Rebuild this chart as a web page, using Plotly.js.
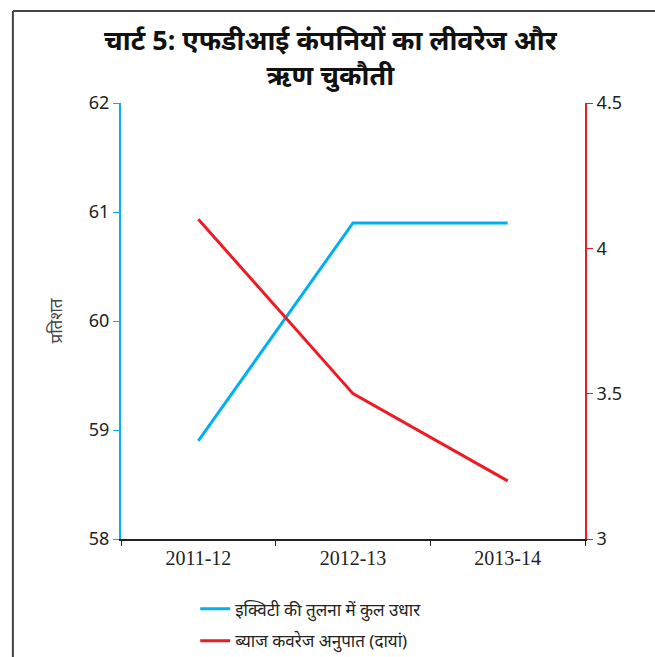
<!DOCTYPE html>
<html>
<head>
<meta charset="utf-8">
<script src="https://cdn.plot.ly/plotly-3.0.1.min.js"></script>
<style>
html,body{margin:0;padding:0;background:#fff;}
#chart{width:655px;height:657px;}
</style>
</head>
<body>
<div id="chart"></div>
<script>
const categories = ['2011-12', '2012-13', '2013-14'];
const debtEquity = [58.9, 60.9, 60.9];
const interestCoverage = [4.1, 3.5, 3.2];
const seriesNames = ['इक्विटी की तुलना में कुल उधार', 'ब्याज कवरेज अनुपात (दायां)'];
const leftTicks = [58, 59, 60, 61, 62];
const rightTicks = [3, 3.5, 4, 4.5];
const chartTitle = '<b>चार्ट 5: एफडीआई कंपनियों का लीवरेज और<br>ऋण चुकौती</b>';
const yTitle = 'प्रतिशत';

const blue = '#00B0F0';
const red = '#ED1C24';

const traces = [
  {x: categories, y: debtEquity, type: 'scatter', mode: 'lines', name: seriesNames[0],
   line: {color: blue, width: 3}, yaxis: 'y', legend: 'legend'},
  {x: categories, y: interestCoverage, type: 'scatter', mode: 'lines', name: seriesNames[1],
   line: {color: red, width: 3}, yaxis: 'y2', legend: 'legend2'}
];

const layout = {
  width: 655, height: 657,
  margin: {l: 121, r: 70, t: 103, b: 118, autoexpand: false},
  paper_bgcolor: '#fff', plot_bgcolor: '#fff',
  font: {family: 'Noto Sans, sans-serif', color: '#222'},
  xaxis: {
    type: 'category', tickson: 'boundaries', ticks: 'outside', ticklen: 5, tickcolor: '#222',
    showline: true, linecolor: '#222', linewidth: 2, showgrid: false, zeroline: false,
    tickfont: {family: 'Liberation Serif, serif', size: 20, color: '#222'},
    range: [-0.5, 2.5]
  },
  yaxis: {
    range: [58, 62], tickvals: leftTicks, ticks: 'outside', ticklen: 6, tickcolor: blue,
    showline: true, linecolor: blue, linewidth: 2, showgrid: false, zeroline: false,
    tickfont: {size: 18, color: '#222'},
    title: {text: yTitle, font: {size: 17, color: '#444'}, standoff: 22}
  },
  yaxis2: {
    range: [3, 4.5], tickvals: rightTicks, overlaying: 'y', side: 'right',
    ticks: 'outside', ticklen: 6, tickcolor: red,
    showline: true, linecolor: red, linewidth: 2, showgrid: false, zeroline: false,
    tickfont: {size: 18, color: '#222'}
  },
  legend: {x: 0.16, xanchor: 'left', y: -0.12, yanchor: 'top', font: {size: 17, color: '#222'},
           bgcolor: 'rgba(0,0,0,0)'},
  legend2: {x: 0.16, xanchor: 'left', y: -0.193, yanchor: 'top', font: {size: 17, color: '#222'},
           bgcolor: 'rgba(0,0,0,0)'},
  annotations: [
    {text: chartTitle, xref: 'paper', yref: 'paper', x: 0.453, y: 1.018, xanchor: 'center', yanchor: 'bottom',
     showarrow: false, font: {size: 27, color: '#111'}}
  ],
  shapes: [
    {type: 'line', xref: 'paper', yref: 'paper', x0: -0.233, x1: 1.2, y0: 1.211, y1: 1.211,
     line: {color: '#444', width: 2}},
    {type: 'line', xref: 'paper', yref: 'paper', x0: -0.233, x1: -0.233, y0: 1.211, y1: -0.3,
     line: {color: '#444', width: 2}}
  ],
  showlegend: true
};

Plotly.newPlot('chart', traces, layout, {displayModeBar: false, staticPlot: true});
</script>
</body>
</html>
